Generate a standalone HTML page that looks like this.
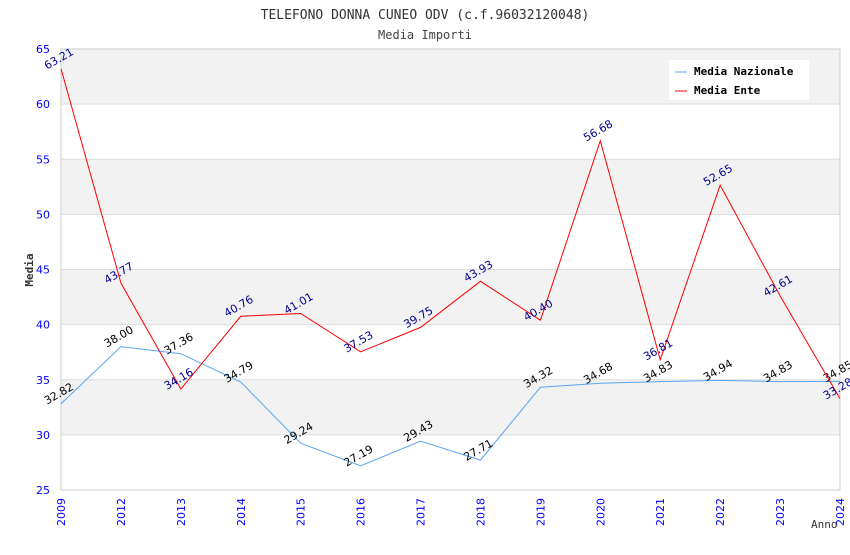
<!DOCTYPE html>
<html><head><meta charset="utf-8"><style>
body{margin:0;background:#fff;width:850px;height:550px;overflow:hidden}
text{font-family:"DejaVu Sans Mono","Liberation Mono",monospace}
.t{font-family:"DejaVu Sans","Liberation Sans",sans-serif}
</style></head><body>
<svg id="c" width="850" height="550">
<text x="425" y="19" text-anchor="middle" font-size="13" fill="#333">TELEFONO DONNA CUNEO ODV (c.f.96032120048)</text>
<text x="425" y="39" text-anchor="middle" font-size="12" fill="#444">Media Importi</text>
<g id="grid"></g><g id="axes"></g><g id="series"></g>
<text x="0" y="0" transform="translate(33,270) rotate(-90)" text-anchor="middle" font-size="11" font-weight="bold" fill="#333">Media</text>
<text x="811" y="528" font-size="11" fill="#333">Anno</text>
<g>
<rect x="669" y="60" width="140" height="40" fill="#fff"/>
<g><line x1="675" y1="72" x2="687" y2="72" stroke="#5aa5f0"/><text x="694" y="75" font-size="11" font-weight="bold" fill="#000">Media Nazionale</text></g>
<g><line x1="675" y1="91" x2="687" y2="91" stroke="red"/><text x="694" y="94" font-size="11" font-weight="bold" fill="#000">Media Ente</text></g>
</g>
</svg>
<script>
const years=["2009","2012","2013","2014","2015","2016","2017","2018","2019","2020","2021","2022","2023","2024"];
const nazionale=[32.82,38.00,37.36,34.79,29.24,27.19,29.43,27.71,34.32,34.68,34.83,34.94,34.83,34.85];
const ente=[63.21,43.77,34.16,40.76,41.01,37.53,39.75,43.93,40.40,56.68,36.81,52.65,42.61,33.28];
const yTicks=[25,30,35,40,45,50,55,60,65];
const L=61,R=840,T=49,B=490,yMin=25,yMax=65;
const X=i=>L+i*(R-L)/(years.length-1);
const Y=v=>B-(v-yMin)/(yMax-yMin)*(B-T);
const NS="http://www.w3.org/2000/svg";
function mk(tag,attrs,parent,txt){const e=document.createElementNS(NS,tag);for(const k in attrs)e.setAttribute(k,attrs[k]);if(txt!==undefined)e.textContent=txt;parent.appendChild(e);return e;}
const grid=document.getElementById('grid'),axes=document.getElementById('axes'),ser=document.getElementById('series');
for(let i=0;i<yTicks.length-1;i++){
  const a=yTicks[i],b=yTicks[i+1];
  const r=mk('rect',{x:L,y:Y(b),width:R-L,height:Y(a)-Y(b),fill:(i%2==1)?'#f2f2f2':'#fff'},grid);
  
  
}
yTicks.forEach(v=>{
  const l=mk('line',{x1:L,x2:R,y1:Y(v),y2:Y(v),stroke:'#ddd'},grid);
  
  
  const t=mk('text',{x:L-11,y:Y(v)+4,'text-anchor':'end','font-size':11,fill:'#00f',class:'t'},axes,String(v));
  
  
});
const fr=mk('rect',{x:L,y:T,width:R-L,height:B-T,fill:'none',stroke:'#ccc'},axes);


years.forEach((y,i)=>{
  const t=mk('text',{transform:`translate(${X(i)+4},${B+8}) rotate(-90)`,'text-anchor':'end','font-size':11,fill:'#00f',class:'t'},axes,y);
  
  
});
function series(vals,color,lblColor,name){
  const p=mk('polyline',{points:vals.map((v,i)=>X(i)+','+Y(v)).join(' '),fill:'none',stroke:color,'stroke-width':1},ser);
  
  
  vals.forEach((v,i)=>{
    const t=mk('text',{transform:`translate(${X(i)-14},${Y(v)+1}) rotate(-30)`,'font-size':11,fill:lblColor,class:'t'},ser,v.toFixed(2));
    
    
  });
}
series(nazionale,'#5aa5f0','#000','nazionale');
series(ente,'red','#00008b','ente');
</script>
</body></html>
